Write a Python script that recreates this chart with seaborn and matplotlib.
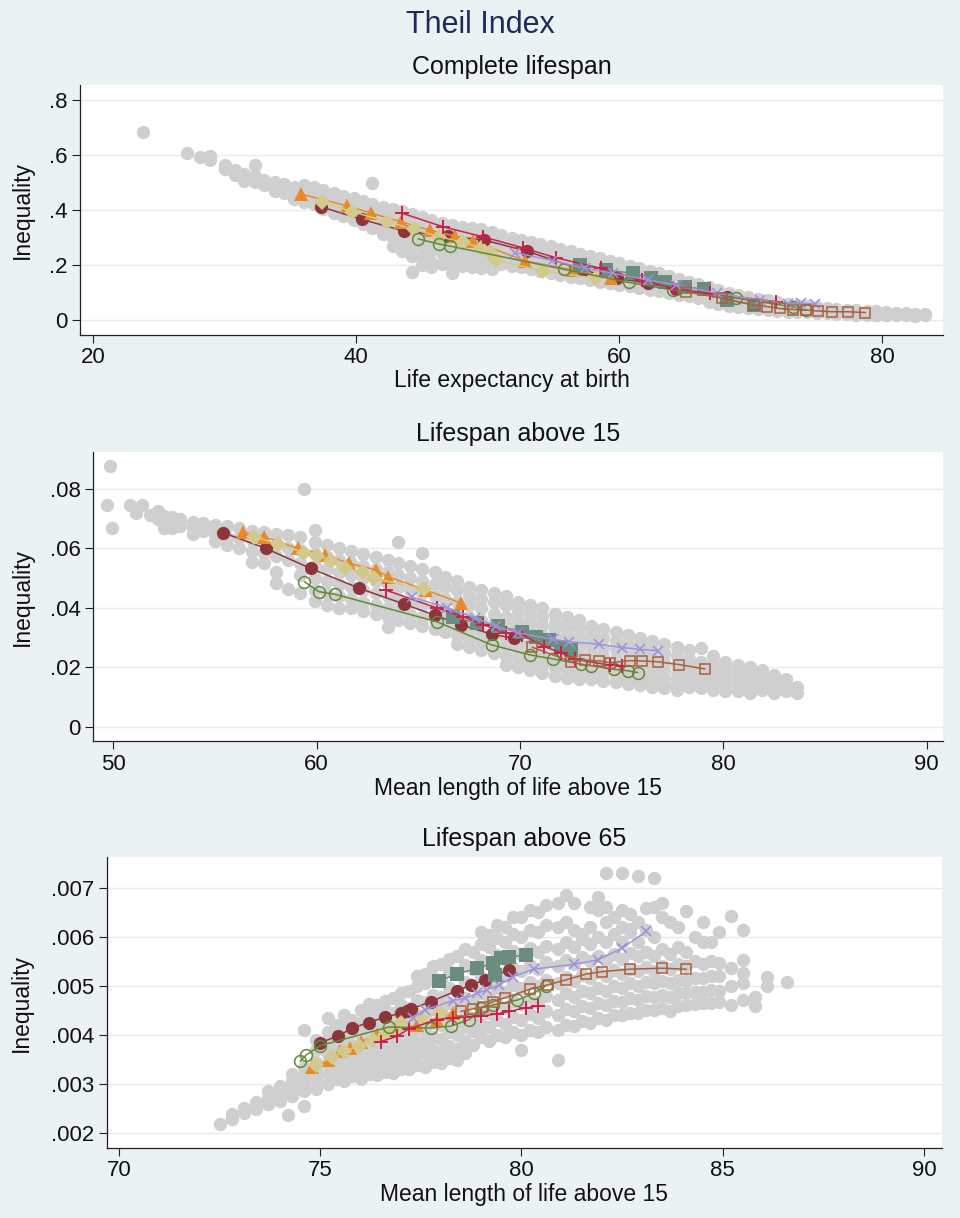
"""
Theil index of lifespan inequality against mean length of life,
three panels (birth, above 15, above 65), Stata s2color look.
"""

import pandas as pd
import matplotlib
matplotlib.use("Agg")
import matplotlib.pyplot as plt
import seaborn as sns

# ── Panel 1: complete lifespan ───────────────────────────────
birth_maroon_x = [37.3, 40.4, 43.6, 47.0, 49.7, 53.0, 57.2, 59.8, 62.2, 64.3, 68.2]
birth_maroon_y = [0.412, 0.366, 0.324, 0.305, 0.291, 0.250, 0.182, 0.152, 0.133, 0.112, 0.085]
birth_orange_x = [35.8, 39.3, 41.1, 43.4, 45.6, 47.5, 48.9, 52.8, 56.5, 59.4]
birth_orange_y = [0.458, 0.415, 0.389, 0.357, 0.327, 0.305, 0.287, 0.215, 0.182, 0.153]
birth_khaki_x = [37.4, 39.7, 42.3, 44.4, 46.3, 48.1, 49.5, 50.2, 50.6, 54.2, 58.2]
birth_khaki_y = [0.430, 0.394, 0.358, 0.330, 0.303, 0.282, 0.263, 0.249, 0.218, 0.178, 0.152]
birth_teal_x = [57.0, 59.0, 61.0, 62.4, 63.5, 65.0, 66.4, 68.2, 70.2]
birth_teal_y = [0.200, 0.182, 0.170, 0.152, 0.140, 0.121, 0.112, 0.073, 0.055]
birth_green_x = [44.7, 46.3, 47.1, 55.8, 60.7, 64.1, 68.9, 73.2, 74.2]
birth_green_y = [0.295, 0.276, 0.269, 0.184, 0.137, 0.109, 0.079, 0.048, 0.036]
birth_red_x = [43.5, 46.6, 49.6, 52.7, 55.2, 58.6, 61.7, 64.1, 66.9, 71.9]
birth_red_y = [0.388, 0.339, 0.303, 0.262, 0.226, 0.188, 0.145, 0.115, 0.097, 0.067]
birth_lav_x = [52.1, 54.9, 57.4, 59.5, 62.2, 64.3, 67.4, 70.7, 72.8, 73.8, 74.9]
birth_lav_y = [0.245, 0.216, 0.188, 0.170, 0.145, 0.128, 0.097, 0.073, 0.060, 0.062, 0.057]
birth_sienna_x = [65.1, 67.8, 70.2, 71.2, 72.2, 73.2, 74.2, 75.1, 76.2, 77.4, 78.7]
birth_sienna_y = [0.103, 0.079, 0.055, 0.049, 0.042, 0.038, 0.036, 0.033, 0.030, 0.030, 0.027]

# gray cloud: (x, y, y, ...) per column of dots
birth_cloud = [
    (23.8, 0.685), (27.1, 0.608), (28.1, 0.592), (28.9, 0.580, 0.595),
    (30.0, 0.565, 0.548), (30.8, 0.545, 0.528), (31.5, 0.532, 0.515, 0.505),
    (32.3, 0.564, 0.522, 0.502), (33.0, 0.510, 0.492), (33.8, 0.502, 0.482, 0.470),
    (34.5, 0.495, 0.472, 0.460), (35.3, 0.485, 0.466, 0.450, 0.440),
    (36.0, 0.490, 0.462, 0.445, 0.430), (36.8, 0.482, 0.452, 0.435, 0.420),
    (37.5, 0.472, 0.442, 0.420, 0.402), (38.3, 0.460, 0.432, 0.410, 0.390),
    (39.0, 0.450, 0.422, 0.400, 0.380), (39.8, 0.442, 0.412, 0.385, 0.365),
    (40.5, 0.432, 0.402, 0.375, 0.350), (41.2, 0.498, 0.422, 0.390, 0.360, 0.335),
    (42.0, 0.412, 0.378, 0.345, 0.312), (42.8, 0.402, 0.366, 0.332, 0.300, 0.270),
    (43.5, 0.396, 0.356, 0.322, 0.286, 0.250),
    (44.2, 0.384, 0.346, 0.310, 0.272, 0.232, 0.176),
    (45.0, 0.374, 0.336, 0.300, 0.265, 0.226, 0.200),
    (45.7, 0.364, 0.326, 0.290, 0.252, 0.212, 0.194),
    (46.5, 0.354, 0.316, 0.280, 0.242, 0.205),
    (47.3, 0.346, 0.306, 0.270, 0.236, 0.200, 0.171),
    (48.0, 0.338, 0.298, 0.262, 0.228, 0.195), (48.8, 0.334, 0.296, 0.260, 0.226, 0.192),
    (49.5, 0.330, 0.292, 0.258, 0.224, 0.190), (50.3, 0.320, 0.285, 0.250, 0.215, 0.185),
    (51.0, 0.310, 0.275, 0.240, 0.205), (51.8, 0.300, 0.265, 0.230, 0.198),
    (52.5, 0.290, 0.258, 0.225, 0.192), (53.3, 0.282, 0.250, 0.218, 0.185),
    (54.0, 0.275, 0.242, 0.210, 0.178), (54.8, 0.268, 0.235, 0.202, 0.170),
    (55.5, 0.258, 0.228, 0.195, 0.165), (56.3, 0.250, 0.220, 0.188, 0.158),
    (57.0, 0.240, 0.212, 0.180, 0.152), (57.8, 0.232, 0.204, 0.172, 0.146),
    (58.5, 0.224, 0.196, 0.165, 0.140), (59.3, 0.216, 0.188, 0.158, 0.134),
    (60.0, 0.208, 0.180, 0.152, 0.128), (60.8, 0.198, 0.172, 0.145, 0.122),
    (61.5, 0.190, 0.164, 0.138, 0.116), (62.3, 0.180, 0.155, 0.131, 0.110),
    (63.0, 0.170, 0.147, 0.124, 0.104), (63.8, 0.160, 0.139, 0.117, 0.098),
    (64.5, 0.150, 0.130, 0.110, 0.092), (65.3, 0.140, 0.122, 0.103, 0.086),
    (66.0, 0.130, 0.113, 0.096, 0.080), (66.8, 0.120, 0.104, 0.089, 0.074, 0.064),
    (67.5, 0.110, 0.096, 0.082, 0.068, 0.058), (68.3, 0.100, 0.086, 0.073, 0.061, 0.052),
    (69.0, 0.092, 0.079, 0.066, 0.055, 0.047), (69.8, 0.085, 0.072, 0.060, 0.050, 0.043),
    (70.5, 0.078, 0.066, 0.055, 0.046, 0.040), (71.3, 0.072, 0.060, 0.050, 0.042, 0.036),
    (72.0, 0.066, 0.055, 0.046, 0.038, 0.033), (72.8, 0.060, 0.050, 0.042, 0.035, 0.030),
    (73.5, 0.055, 0.046, 0.038, 0.032, 0.028), (74.3, 0.050, 0.042, 0.035, 0.029),
    (75.0, 0.046, 0.038, 0.032, 0.027), (75.8, 0.043, 0.035, 0.029, 0.025),
    (76.5, 0.040, 0.033, 0.027, 0.023), (77.3, 0.037, 0.030, 0.025, 0.021),
    (78.0, 0.035, 0.028, 0.023, 0.020), (78.8, 0.033, 0.026, 0.021, 0.019),
    (79.5, 0.031, 0.025, 0.020, 0.018), (80.3, 0.029, 0.023, 0.019, 0.017),
    (81.0, 0.027, 0.022, 0.018), (81.8, 0.025, 0.021, 0.017),
    (82.5, 0.023, 0.019, 0.016), (83.2, 0.021, 0.017),
]

# ── Panel 2: lifespan above 15 ───────────────────────────────
a15_maroon_x = [55.4, 57.5, 59.7, 62.1, 64.3, 65.8, 67.1, 68.6, 69.7]
a15_maroon_y = [0.0653, 0.0600, 0.0533, 0.0466, 0.0413, 0.0376, 0.0343, 0.0312, 0.0298]
a15_orange_x = [56.4, 57.4, 59.1, 60.4, 61.6, 62.9, 63.5, 65.4, 67.1]
a15_orange_y = [0.0654, 0.0640, 0.0600, 0.0578, 0.0550, 0.0528, 0.0505, 0.0460, 0.0416]
a15_khaki_x = [56.9, 58.1, 59.4, 60.0, 60.7, 61.4, 62.3, 62.8, 65.3]
a15_khaki_y = [0.0640, 0.0615, 0.0586, 0.0575, 0.0559, 0.0533, 0.0522, 0.0500, 0.0463]
a15_teal_x = [66.7, 67.9, 68.9, 70.1, 70.8, 71.4, 72.0, 72.5]
a15_teal_y = [0.0369, 0.0350, 0.0339, 0.0320, 0.0304, 0.0293, 0.0270, 0.0259]
a15_green_x = [59.4, 60.1, 60.9, 65.9, 68.6, 70.5, 71.6, 73.0, 73.5, 74.6, 75.3, 75.8]
a15_green_y = [0.0488, 0.0455, 0.0446, 0.0354, 0.0276, 0.0242, 0.0229, 0.0211, 0.0206, 0.0194, 0.0189, 0.0183]
a15_red_x = [63.4, 65.9, 67.2, 68.2, 69.3, 70.1, 71.2, 72.0, 72.7, 74.4, 75.0]
a15_red_y = [0.0460, 0.0400, 0.0371, 0.0343, 0.0315, 0.0310, 0.0270, 0.0250, 0.0228, 0.0208, 0.0206]
a15_lav_x = [64.7, 66.4, 67.8, 68.8, 69.9, 71.6, 72.4, 73.9, 75.0, 75.9, 76.8]
a15_lav_y = [0.0436, 0.0401, 0.0367, 0.0339, 0.0316, 0.0295, 0.0287, 0.0278, 0.0267, 0.0261, 0.0256]
a15_sienna_x = [70.6, 72.5, 73.2, 73.9, 74.4, 75.4, 76.0, 76.8, 77.8, 79.1]
a15_sienna_y = [0.0268, 0.0220, 0.0225, 0.0222, 0.0216, 0.0223, 0.0222, 0.0219, 0.0210, 0.0195]

a15_cloud = [
    (49.7, 0.0745), (49.85, 0.0877), (49.95, 0.0670), (50.8, 0.0746), (51.1, 0.0720),
    (51.4, 0.0746), (51.8, 0.0712), (52.2, 0.0725, 0.0700), (52.5, 0.0669, 0.0710),
    (52.9, 0.0670, 0.0705), (53.3, 0.0700, 0.0675), (53.9, 0.0650, 0.0690, 0.0670),
    (54.4, 0.0685, 0.0660), (55.0, 0.0680, 0.0650, 0.0625),
    (55.6, 0.0675, 0.0640, 0.0610), (56.2, 0.0670, 0.0635, 0.0600),
    (56.8, 0.0660, 0.0630, 0.0590, 0.0555), (57.4, 0.0655, 0.0620, 0.0585, 0.0550),
    (58.0, 0.0650, 0.0610, 0.0575, 0.0520, 0.0485), (58.6, 0.0645, 0.0600, 0.0560, 0.0465),
    (59.2, 0.0640, 0.0595, 0.0550, 0.0510, 0.0450), (59.4, 0.0800),
    (59.9, 0.0662, 0.0620, 0.0580, 0.0540, 0.0500, 0.0460, 0.0425),
    (60.5, 0.0610, 0.0570, 0.0530, 0.0490, 0.0450, 0.0410),
    (61.1, 0.0600, 0.0560, 0.0520, 0.0480, 0.0440, 0.0400),
    (61.7, 0.0590, 0.0550, 0.0510, 0.0470, 0.0430, 0.0400),
    (62.3, 0.0580, 0.0540, 0.0500, 0.0460, 0.0420, 0.0390),
    (62.9, 0.0570, 0.0530, 0.0490, 0.0450, 0.0410, 0.0380),
    (63.5, 0.0560, 0.0520, 0.0480, 0.0440, 0.0400, 0.0370, 0.0335),
    (64.0, 0.0623, 0.0550, 0.0510, 0.0470, 0.0430, 0.0390, 0.0360),
    (64.6, 0.0540, 0.0500, 0.0460, 0.0420, 0.0380, 0.0350),
    (65.2, 0.0586, 0.0530, 0.0490, 0.0450, 0.0410, 0.0370, 0.0340),
    (65.8, 0.0520, 0.0480, 0.0440, 0.0400, 0.0360, 0.0330),
    (66.3, 0.0503, 0.0470, 0.0430, 0.0390, 0.0350, 0.0320),
    (66.9, 0.0490, 0.0460, 0.0420, 0.0380, 0.0340, 0.0310, 0.0280),
    (67.5, 0.0470, 0.0440, 0.0410, 0.0370, 0.0330, 0.0300, 0.0270),
    (68.1, 0.0460, 0.0430, 0.0400, 0.0360, 0.0320, 0.0290, 0.0260),
    (68.7, 0.0450, 0.0420, 0.0380, 0.0350, 0.0310, 0.0280, 0.0250),
    (69.3, 0.0440, 0.0410, 0.0370, 0.0340, 0.0300, 0.0270, 0.0240, 0.0210),
    (69.9, 0.0420, 0.0390, 0.0360, 0.0330, 0.0290, 0.0260, 0.0230, 0.0200),
    (70.5, 0.0410, 0.0380, 0.0350, 0.0320, 0.0280, 0.0250, 0.0220, 0.0190),
    (71.1, 0.0400, 0.0370, 0.0340, 0.0310, 0.0270, 0.0240, 0.0210, 0.0180),
    (71.7, 0.0380, 0.0350, 0.0330, 0.0300, 0.0260, 0.0230, 0.0200, 0.0170),
    (72.3, 0.0370, 0.0340, 0.0310, 0.0280, 0.0250, 0.0220, 0.0190, 0.0165),
    (72.9, 0.0360, 0.0330, 0.0300, 0.0270, 0.0240, 0.0210, 0.0180, 0.0160),
    (73.5, 0.0340, 0.0310, 0.0280, 0.0250, 0.0220, 0.0190, 0.0160),
    (74.1, 0.0330, 0.0300, 0.0270, 0.0240, 0.0210, 0.0180, 0.0155),
    (74.7, 0.0320, 0.0290, 0.0260, 0.0230, 0.0200, 0.0170, 0.0150),
    (75.3, 0.0310, 0.0280, 0.0250, 0.0220, 0.0190, 0.0160, 0.0145),
    (75.9, 0.0300, 0.0270, 0.0240, 0.0210, 0.0180, 0.0155, 0.0140),
    (76.5, 0.0290, 0.0260, 0.0230, 0.0200, 0.0170, 0.0150, 0.0135),
    (77.1, 0.0280, 0.0250, 0.0220, 0.0190, 0.0165, 0.0145, 0.0130),
    (77.7, 0.0270, 0.0240, 0.0210, 0.0180, 0.0160, 0.0140, 0.0125),
    (78.3, 0.0260, 0.0230, 0.0200, 0.0175, 0.0155, 0.0135),
    (78.9, 0.0266, 0.0220, 0.0190, 0.0170, 0.0150, 0.0130),
    (79.5, 0.0240, 0.0210, 0.0185, 0.0165, 0.0145, 0.0125),
    (80.1, 0.0220, 0.0200, 0.0180, 0.0160, 0.0140, 0.0120),
    (80.7, 0.0210, 0.0190, 0.0170, 0.0155, 0.0135, 0.0120),
    (81.3, 0.0200, 0.0180, 0.0165, 0.0150, 0.0130, 0.0115),
    (81.9, 0.0190, 0.0170, 0.0160, 0.0145, 0.0125),
    (82.5, 0.0175, 0.0160, 0.0145, 0.0130, 0.0115),
    (83.1, 0.0160, 0.0145, 0.0130, 0.0120), (83.6, 0.0135, 0.0115),
]

# ── Panel 3: lifespan above 65 ───────────────────────────────
a65_maroon_x = [75.0, 75.45, 75.8, 76.2, 76.6, 77.0, 77.15, 77.25, 77.75, 78.4, 78.75, 79.1, 79.7]
a65_maroon_y = [0.00384, 0.00398, 0.00414, 0.00425, 0.00436, 0.00444, 0.00449, 0.00452,
                0.00468, 0.00490, 0.00502, 0.00512, 0.00533]
a65_orange_x = [74.8, 75.2, 75.5, 75.75, 76.0, 76.4, 76.8, 77.4, 77.9, 78.3]
a65_orange_y = [0.00335, 0.00349, 0.00366, 0.00373, 0.00386, 0.00400, 0.00410, 0.00420, 0.00431, 0.00444]
a65_khaki_x = [74.9, 75.3, 75.6, 75.95, 76.3, 76.6, 76.85, 77.0, 77.5, 78.0]
a65_khaki_y = [0.00339, 0.00355, 0.00366, 0.00377, 0.00390, 0.00400, 0.00410, 0.00424, 0.00434, 0.00444]
a65_teal_x = [77.95, 78.4, 78.9, 79.3, 79.35, 79.5, 79.7, 80.1]
a65_teal_y = [0.00510, 0.00524, 0.00536, 0.00546, 0.00522, 0.00556, 0.00559, 0.00563]
a65_green_x = [74.5, 74.65, 75.0, 76.7, 77.75, 78.25, 78.7, 79.0, 79.3, 79.9, 80.3, 80.6]
a65_green_y = [0.00346, 0.00359, 0.00378, 0.00416, 0.00414, 0.00418, 0.00431, 0.00455,
               0.00461, 0.00471, 0.00485, 0.00500]
a65_red_x = [76.5, 76.9, 77.2, 77.9, 78.3, 78.6, 79.0, 79.4, 79.7, 80.1, 80.4]
a65_red_y = [0.00386, 0.00397, 0.00412, 0.00431, 0.00435, 0.00436, 0.00438, 0.00443, 0.00448, 0.00455, 0.00459]
a65_lav_x = [77.3, 77.6, 78.3, 78.6, 78.9, 79.15, 79.45, 79.8, 80.3, 81.3, 81.9, 82.5, 83.1]
a65_lav_y = [0.00435, 0.00451, 0.00470, 0.00475, 0.00485, 0.00492, 0.00502, 0.00519,
             0.00534, 0.00544, 0.00553, 0.00577, 0.00611]
a65_sienna_x = [78.5, 78.8, 79.05, 79.3, 79.6, 80.2, 80.65, 81.1, 81.6, 82.0, 82.7, 83.5, 84.1]
a65_sienna_y = [0.00448, 0.00453, 0.00457, 0.00468, 0.00476, 0.00493, 0.00502, 0.00512,
                0.00524, 0.00529, 0.00534, 0.00536, 0.00534]

a65_cloud = [
    (72.5, 0.00218), (72.8, 0.00228, 0.00238), (73.1, 0.00240, 0.00250),
    (73.4, 0.00248, 0.00262), (73.7, 0.00258, 0.00272, 0.00285),
    (74.0, 0.00265, 0.00280, 0.00295), (74.2, 0.00237),
    (74.3, 0.00275, 0.00290, 0.00305, 0.00320),
    (74.6, 0.00255, 0.00285, 0.00300, 0.00318, 0.00335, 0.00410),
    (74.9, 0.00290, 0.00310, 0.00328, 0.00345, 0.00370, 0.00390),
    (75.2, 0.00300, 0.00320, 0.00340, 0.00360, 0.00385, 0.00405, 0.00435),
    (75.4, 0.00310, 0.00330, 0.00350, 0.00372, 0.00396, 0.00420),
    (75.6, 0.00305, 0.00325, 0.00345, 0.00368, 0.00392, 0.00415, 0.00440),
    (75.8, 0.00315, 0.00335, 0.00358, 0.00380, 0.00405, 0.00430),
    (76.0, 0.00310, 0.00330, 0.00352, 0.00375, 0.00400, 0.00425, 0.00450),
    (76.2, 0.00320, 0.00342, 0.00364, 0.00388, 0.00412, 0.00440, 0.00462),
    (76.4, 0.00318, 0.00338, 0.00360, 0.00385, 0.00410, 0.00435, 0.00460),
    (76.6, 0.00325, 0.00348, 0.00372, 0.00396, 0.00422, 0.00450, 0.00470),
    (76.8, 0.00322, 0.00345, 0.00368, 0.00392, 0.00418, 0.00445, 0.00475),
    (77.0, 0.00330, 0.00355, 0.00380, 0.00405, 0.00432, 0.00460, 0.00485),
    (77.2, 0.00330, 0.00352, 0.00375, 0.00400, 0.00428, 0.00455, 0.00490),
    (77.4, 0.00338, 0.00362, 0.00388, 0.00414, 0.00442, 0.00472, 0.00500, 0.00520),
    (77.6, 0.00335, 0.00360, 0.00385, 0.00410, 0.00438, 0.00468, 0.00505, 0.00525),
    (77.8, 0.00345, 0.00370, 0.00396, 0.00424, 0.00452, 0.00482, 0.00515, 0.00540),
    (78.0, 0.00342, 0.00365, 0.00392, 0.00420, 0.00448, 0.00478, 0.00510, 0.00545),
    (78.2, 0.00352, 0.00378, 0.00405, 0.00434, 0.00464, 0.00496, 0.00530, 0.00555),
    (78.4, 0.00348, 0.00372, 0.00400, 0.00428, 0.00458, 0.00490, 0.00525, 0.00560),
    (78.6, 0.00362, 0.00388, 0.00415, 0.00445, 0.00476, 0.00508, 0.00542, 0.00575),
    (78.8, 0.00380, 0.00408, 0.00435, 0.00468, 0.00500, 0.00535, 0.00570),
    (79.0, 0.00395, 0.00422, 0.00452, 0.00485, 0.00518, 0.00552, 0.00585, 0.00610),
    (79.2, 0.00388, 0.00415, 0.00445, 0.00478, 0.00510, 0.00545, 0.00580, 0.00604),
    (79.4, 0.00400, 0.00430, 0.00462, 0.00495, 0.00528, 0.00562, 0.00598, 0.00625),
    (79.6, 0.00395, 0.00422, 0.00455, 0.00488, 0.00520, 0.00555, 0.00590, 0.00620),
    (79.8, 0.00405, 0.00436, 0.00470, 0.00502, 0.00536, 0.00572, 0.00605, 0.00640),
    (80.0, 0.00370, 0.00400, 0.00430, 0.00462, 0.00495, 0.00530, 0.00565, 0.00600, 0.00640),
    (80.2, 0.00410, 0.00442, 0.00475, 0.00508, 0.00542, 0.00578, 0.00615, 0.00655),
    (80.4, 0.00405, 0.00435, 0.00468, 0.00500, 0.00535, 0.00570, 0.00610, 0.00650),
    (80.6, 0.00415, 0.00448, 0.00480, 0.00512, 0.00548, 0.00582, 0.00625, 0.00665),
    (80.9, 0.00348, 0.00410, 0.00440, 0.00472, 0.00505, 0.00540, 0.00575, 0.00620, 0.00670),
    (81.1, 0.00420, 0.00452, 0.00485, 0.00518, 0.00552, 0.00590, 0.00630, 0.00686),
    (81.3, 0.00418, 0.00448, 0.00478, 0.00510, 0.00545, 0.00580, 0.00615, 0.00670),
    (81.5, 0.00428, 0.00458, 0.00490, 0.00522, 0.00558, 0.00595, 0.00605),
    (81.7, 0.00425, 0.00455, 0.00485, 0.00515, 0.00550, 0.00585, 0.00620, 0.00660),
    (81.9, 0.00435, 0.00465, 0.00495, 0.00528, 0.00560, 0.00600, 0.00654, 0.00682),
    (82.1, 0.00431, 0.00460, 0.00490, 0.00520, 0.00552, 0.00590, 0.00630, 0.00660, 0.00731),
    (82.3, 0.00440, 0.00470, 0.00500, 0.00532, 0.00565, 0.00605, 0.00640),
    (82.5, 0.00440, 0.00468, 0.00495, 0.00525, 0.00555, 0.00590, 0.00620, 0.00655, 0.00730),
    (82.7, 0.00445, 0.00475, 0.00505, 0.00535, 0.00568, 0.00610, 0.00616, 0.00647),
    (82.9, 0.00445, 0.00472, 0.00500, 0.00530, 0.00560, 0.00590, 0.00630, 0.00725),
    (83.1, 0.00450, 0.00480, 0.00508, 0.00538, 0.00570, 0.00615, 0.00659),
    (83.3, 0.00450, 0.00478, 0.00505, 0.00530, 0.00560, 0.00600, 0.00660, 0.00721),
    (83.5, 0.00455, 0.00482, 0.00510, 0.00540, 0.00575, 0.00640, 0.00670),
    (83.7, 0.00448, 0.00478, 0.00505, 0.00535, 0.00565, 0.00630),
    (83.9, 0.00458, 0.00485, 0.00512, 0.00545, 0.00580, 0.00620),
    (84.1, 0.00460, 0.00485, 0.00510, 0.00540, 0.00570, 0.00653),
    (84.3, 0.00462, 0.00488, 0.00515, 0.00550, 0.00600),
    (84.5, 0.00465, 0.00488, 0.00515, 0.00545, 0.00590, 0.00630),
    (84.7, 0.00466, 0.00492, 0.00520, 0.00550, 0.00590),
    (84.9, 0.00468, 0.00490, 0.00520, 0.00546, 0.00610),
    (85.2, 0.00461, 0.00499, 0.00536, 0.00643),
    (85.5, 0.00471, 0.00505, 0.00527, 0.00552, 0.00613),
    (85.8, 0.00458, 0.00478), (86.1, 0.00499, 0.00519), (86.6, 0.00507),
]

# ── Axes: ticks and labels ───────────────────────────────────
birth_xticks = [20, 40, 60, 80]
birth_yticks = [0, 0.2, 0.4, 0.6, 0.8]
birth_ylabels = ["0", ".2", ".4", ".6", ".8"]
a15_xticks = [50, 60, 70, 80, 90]
a15_yticks = [0, 0.02, 0.04, 0.06, 0.08]
a15_ylabels = ["0", ".02", ".04", ".06", ".08"]
a65_xticks = [70, 75, 80, 85, 90]
a65_yticks = [0.002, 0.003, 0.004, 0.005, 0.006, 0.007]
a65_ylabels = [".002", ".003", ".004", ".005", ".006", ".007"]

# ── Style ────────────────────────────────────────────────────
BG = "#EAF2F3"
GRID = "#E4EDEF"
GRAY = "#CFCFCF"
STYLE = {
    "maroon": dict(color="#8C353B", marker="o", markersize=9.5, mfc="#8C353B", mew=0),
    "orange": dict(color="#E8892A", marker="^", markersize=10, mfc="#E8892A", mew=0),
    "khaki":  dict(color="#D3C98D", marker="D", markersize=8.5, mfc="#D3C98D", mew=0),
    "teal":   dict(color="#6A8D80", marker="s", markersize=9.5, mfc="#6A8D80", mew=0),
    "green":  dict(color="#5E8B36", marker="o", markersize=8.5, mfc="none", mew=1.1),
    "red":    dict(color="#C8224B", marker="+", markersize=10, mfc="none", mew=1.4),
    "lav":    dict(color="#9D93DA", marker="x", markersize=7, mfc="none", mew=1.2),
    "sienna": dict(color="#A95F3E", marker="s", markersize=7.5, mfc="none", mew=1.1),
}
ORDER = ["maroon", "orange", "khaki", "teal", "green", "red", "lav", "sienna"]

sns.set_theme(style="white")
plt.rcParams["font.family"] = ["Liberation Sans", "DejaVu Sans"]


def cloud_frame(cols):
    rows = [(c[0], y) for c in cols for y in c[1:]]
    return pd.DataFrame(rows, columns=["x", "y"])


def draw_panel(ax, cloud, series, xlim, ylim, xticks, yticks, ylabels, xlabel, title,
               xlab_y, ylab_x):
    ax.set_facecolor("white")
    for yt in yticks:
        ax.axhline(yt, color=GRID, lw=1.0, zorder=0)
    sns.scatterplot(data=cloud_frame(cloud), x="x", y="y", color=GRAY, s=92,
                    linewidth=0, ax=ax, zorder=2)
    for i, name in enumerate(ORDER):
        xs, ys = series[name]
        st = STYLE[name]
        sns.lineplot(x=xs, y=ys, sort=False, estimator=None, ax=ax, color=st["color"],
                     linewidth=1.1, marker=st["marker"], markersize=st["markersize"],
                     markerfacecolor=st["mfc"], markeredgecolor=st["color"],
                     markeredgewidth=st["mew"], zorder=3 + i)
    ax.set_xlim(*xlim)
    ax.set_ylim(*ylim)
    ax.set_xticks(xticks)
    ax.set_yticks(yticks)
    ax.set_yticklabels(ylabels)
    ax.tick_params(axis="both", direction="out", length=6, width=0.8, color="#222222",
                   labelsize=16, labelcolor="#111111", pad=3, bottom=True, left=True)
    for side in ["top", "right"]:
        ax.spines[side].set_visible(False)
    for side in ["left", "bottom"]:
        ax.spines[side].set_color("#222222")
        ax.spines[side].set_linewidth(0.9)
    ax.set_xlabel(xlabel, fontsize=16.5, color="#111111")
    ax.set_ylabel("Inequality", fontsize=16.5, color="#111111")
    ax.xaxis.set_label_coords(0.5, xlab_y)
    ax.xaxis.label.set_va("center")
    ax.yaxis.set_label_coords(ylab_x, 0.5)
    ax.yaxis.label.set_va("center")
    ax.set_title(title, fontsize=18, color="#111111", pad=8)


fig = plt.figure(figsize=(9.6, 12.18), dpi=100, facecolor=BG)
H = 1218.0
W = 960.0


def add_ax(left, top, right, bottom):
    return fig.add_axes([left / W, 1 - bottom / H, (right - left) / W, (bottom - top) / H])


ax1 = add_ax(80, 85, 943, 335)
ax2 = add_ax(93, 452, 943, 741)
ax3 = add_ax(107, 857, 942, 1148)

birth_series = {
    "maroon": (birth_maroon_x, birth_maroon_y), "orange": (birth_orange_x, birth_orange_y),
    "khaki": (birth_khaki_x, birth_khaki_y), "teal": (birth_teal_x, birth_teal_y),
    "green": (birth_green_x, birth_green_y), "red": (birth_red_x, birth_red_y),
    "lav": (birth_lav_x, birth_lav_y), "sienna": (birth_sienna_x, birth_sienna_y),
}
a15_series = {
    "maroon": (a15_maroon_x, a15_maroon_y), "orange": (a15_orange_x, a15_orange_y),
    "khaki": (a15_khaki_x, a15_khaki_y), "teal": (a15_teal_x, a15_teal_y),
    "green": (a15_green_x, a15_green_y), "red": (a15_red_x, a15_red_y),
    "lav": (a15_lav_x, a15_lav_y), "sienna": (a15_sienna_x, a15_sienna_y),
}
a65_series = {
    "maroon": (a65_maroon_x, a65_maroon_y), "orange": (a65_orange_x, a65_orange_y),
    "khaki": (a65_khaki_x, a65_khaki_y), "teal": (a65_teal_x, a65_teal_y),
    "green": (a65_green_x, a65_green_y), "red": (a65_red_x, a65_red_y),
    "lav": (a65_lav_x, a65_lav_y), "sienna": (a65_sienna_x, a65_sienna_y),
}

draw_panel(ax1, birth_cloud, birth_series, (19.0, 84.6), (-0.0545, 0.8545),
           birth_xticks, birth_yticks, birth_ylabels, "Life expectancy at birth",
           "Complete lifespan", -0.184, -0.067)
draw_panel(ax2, a15_cloud, a15_series, (49.0, 90.8), (-0.0047, 0.0924),
           a15_xticks, a15_yticks, a15_ylabels, "Mean length of life above 15",
           "Lifespan above 15", -0.166, -0.0835)
draw_panel(ax3, a65_cloud, a65_series, (69.7, 90.45), (0.00169, 0.00763),
           a65_xticks, a65_yticks, a65_ylabels, "Mean length of life above 15",
           "Lifespan above 65", -0.1615, -0.102)

fig.text(0.5, 1 - 25 / H, "Theil Index", ha="center", va="center", fontsize=22,
         color="#1F2A56")

fig.savefig("out.png", dpi=100, facecolor=BG)
